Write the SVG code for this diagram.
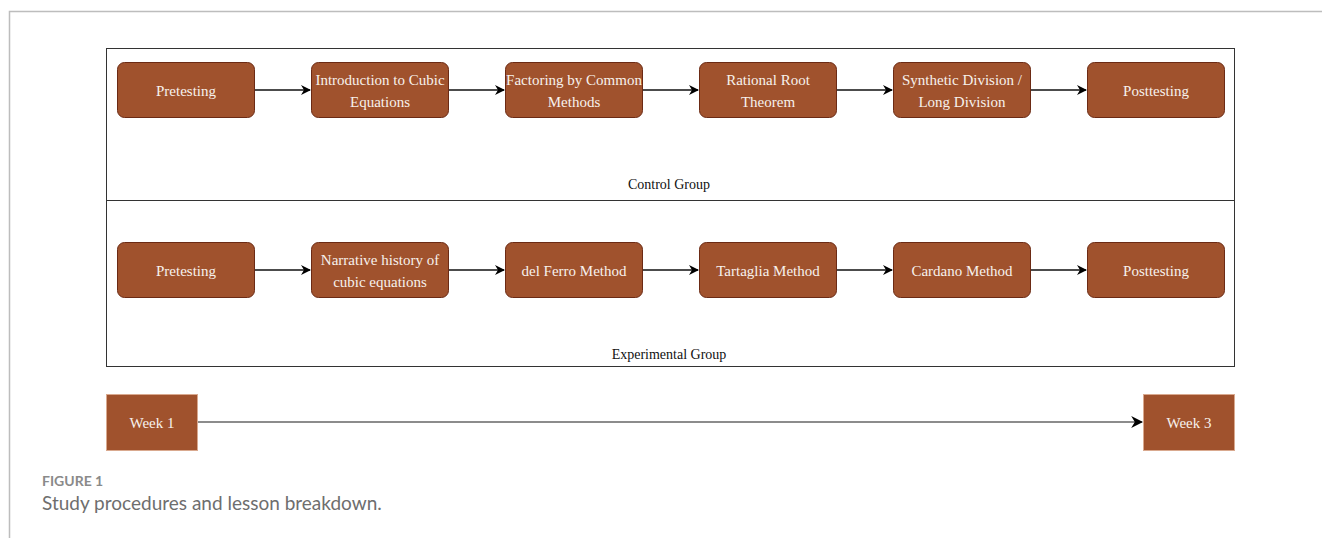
<svg xmlns="http://www.w3.org/2000/svg" width="1322" height="538" viewBox="0 0 1322 538">
<style>
.n{fill:#A0522D;stroke:#6B2A14;stroke-width:1}
.w{fill:#A0522D;stroke:#D9A98F;stroke-width:1}
.t{font-family:"Liberation Serif",serif;font-size:15px;fill:#F7F1EC;text-anchor:middle}
.lbl{font-family:"Liberation Serif",serif;font-size:14px;fill:#111;text-anchor:middle}
.c{stroke:#111;stroke-width:1.3;fill:none;marker-end:url(#ah)}
</style>
<defs>
<marker id="ah" viewBox="0 0 10 10" refX="9" refY="5" markerWidth="10" markerHeight="10" markerUnits="userSpaceOnUse" orient="auto"><path d="M0,0 L10,5 L0,10 L3,5 Z" fill="#000"/></marker>
<marker id="ah2" viewBox="0 0 10 10" refX="9" refY="5" markerWidth="12" markerHeight="12" markerUnits="userSpaceOnUse" orient="auto"><path d="M0,0 L10,5 L0,10 L3,5 Z" fill="#000"/></marker>
</defs>
<rect width="1322" height="538" fill="#fff"/>
<path d="M9.5,538 V11.5 H1322" fill="none" stroke="#BDBDBD" stroke-width="1.5"/>
<g id="containers">
<rect x="106.5" y="48.5" width="1128" height="152" fill="none" stroke="#333" stroke-width="1"/>
<rect x="106.5" y="200.5" width="1128" height="166" fill="none" stroke="#333" stroke-width="1"/>
<text class="lbl" x="669" y="189">Control Group</text>
<text class="lbl" x="669" y="359">Experimental Group</text>
</g>
<g id="connectors">
<path class="c" d="M254,90 H310"/>
<path class="c" d="M448,90 H504"/>
<path class="c" d="M642,90 H698"/>
<path class="c" d="M836,90 H892"/>
<path class="c" d="M1030,90 H1086"/>
<path class="c" d="M254,270 H310"/>
<path class="c" d="M448,270 H504"/>
<path class="c" d="M642,270 H698"/>
<path class="c" d="M836,270 H892"/>
<path class="c" d="M1030,270 H1086"/>
<path d="M197,422 H1142" stroke="#666" stroke-width="1.5" fill="none" marker-end="url(#ah2)"/>
</g>
<g id="c1"><rect class="n" x="117.5" y="62.5" width="137" height="55" rx="7"/><text class="t" x="186" y="96">Pretesting</text></g>
<g id="c2"><rect class="n" x="311.5" y="62.5" width="137" height="55" rx="7"/><text class="t" x="380" y="85">Introduction to Cubic</text><text class="t" x="380" y="107">Equations</text></g>
<g id="c3"><rect class="n" x="505.5" y="62.5" width="137" height="55" rx="7"/><text class="t" x="574" y="85">Factoring by Common</text><text class="t" x="574" y="107">Methods</text></g>
<g id="c4"><rect class="n" x="699.5" y="62.5" width="137" height="55" rx="7"/><text class="t" x="768" y="85">Rational Root</text><text class="t" x="768" y="107">Theorem</text></g>
<g id="c5"><rect class="n" x="893.5" y="62.5" width="137" height="55" rx="7"/><text class="t" x="962" y="85">Synthetic Division /</text><text class="t" x="962" y="107">Long Division</text></g>
<g id="c6"><rect class="n" x="1087.5" y="62.5" width="137" height="55" rx="7"/><text class="t" x="1156" y="96">Posttesting</text></g>
<g id="e1"><rect class="n" x="117.5" y="242.5" width="137" height="55" rx="7"/><text class="t" x="186" y="276">Pretesting</text></g>
<g id="e2"><rect class="n" x="311.5" y="242.5" width="137" height="55" rx="7"/><text class="t" x="380" y="265">Narrative history of</text><text class="t" x="380" y="287">cubic equations</text></g>
<g id="e3"><rect class="n" x="505.5" y="242.5" width="137" height="55" rx="7"/><text class="t" x="574" y="276">del Ferro Method</text></g>
<g id="e4"><rect class="n" x="699.5" y="242.5" width="137" height="55" rx="7"/><text class="t" x="768" y="276">Tartaglia Method</text></g>
<g id="e5"><rect class="n" x="893.5" y="242.5" width="137" height="55" rx="7"/><text class="t" x="962" y="276">Cardano Method</text></g>
<g id="e6"><rect class="n" x="1087.5" y="242.5" width="137" height="55" rx="7"/><text class="t" x="1156" y="276">Posttesting</text></g>
<g id="w1"><rect class="w" x="106.5" y="394.5" width="91" height="56"/><text class="t" x="152" y="428">Week 1</text></g>
<g id="w3"><rect class="w" x="1143.5" y="394.5" width="91" height="56"/><text class="t" x="1189" y="428">Week 3</text></g>
<g id="caption">
<text x="42" y="486" font-family="Lato,'Open Sans',sans-serif" font-size="14" font-weight="bold" fill="#8A8A8A">FIGURE 1</text>
<text x="42" y="510" font-family="Lato,'Open Sans',sans-serif" font-size="19" fill="#6E6E6E">Study procedures and lesson breakdown.</text>
</g>
</svg>
